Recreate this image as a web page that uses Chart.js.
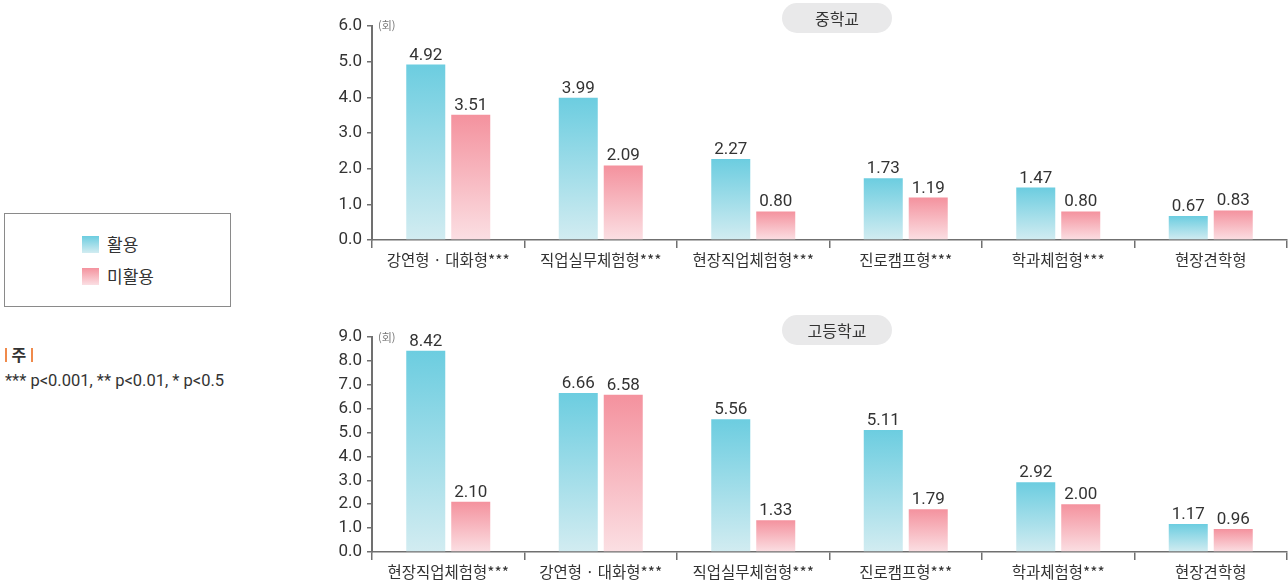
<!DOCTYPE html>
<html lang="ko">
<head>
<meta charset="utf-8">
<title>진로체험 유형별 참여 횟수</title>
<script src="https://cdn.jsdelivr.net/npm/chart.js@4.4.1/dist/chart.umd.min.js"></script>
<style>
  html, body { margin: 0; padding: 0; background: #fff; }
  body { width: 1288px; height: 585px; position: relative; overflow: hidden;
         font-family: "Noto Sans CJK KR", "Noto Sans", sans-serif; color: #333; }
  .chart-box { position: absolute; left: 300px; width: 988px; }
  .chart-box canvas { display: block; }
  .pill { position: absolute; left: 782px; width: 110px; height: 30px; border-radius: 15px;
          background: #e9e9ea; text-align: center; line-height: 30px; font-size: 16px; color: #333; }
  .unit { position: absolute; left: 378px; font-size: 11px; color: #777; }
  .legend { position: absolute; left: 4px; top: 213px; width: 225px; height: 92px;
            border: 1.5px solid #8a8a8a; }
  .legend .item { position: absolute; left: 77px; height: 18px; line-height: 18px; font-size: 17px; }
  .legend .sw { position: absolute; left: 0; top: 0; width: 17px; height: 17px; }
  .legend .txt { position: absolute; left: 25px; top: -1px; white-space: nowrap; }
  .note-head { position: absolute; left: 5px; top: 342px; font-size: 16px; font-weight: 700; color: #333; }
  .note-head .bar { display: inline-block; width: 2px; height: 14px; background: #f08a4b; vertical-align: -1px; }
  .note { position: absolute; left: 5px; top: 371px; font-family: Roboto, "Noto Sans", sans-serif;
          font-size: 16.5px; color: #333; white-space: nowrap; }
</style>
</head>
<body>

<div class="legend">
  <div class="item" style="top:22px"><span class="sw" style="background:linear-gradient(#6ccde0,#d2ecf1)"></span><span class="txt">활용</span></div>
  <div class="item" style="top:54px"><span class="sw" style="background:linear-gradient(#f4929e,#fbdfe3)"></span><span class="txt">미활용</span></div>
</div>
<div class="note-head"><span class="bar"></span> 주 <span class="bar"></span></div>
<div class="note">*** p&lt;0.001, ** p&lt;0.01, * p&lt;0.5</div>

<div class="chart-box" style="top:0;height:273px"><canvas id="middle" width="988" height="273"></canvas></div>
<div class="chart-box" style="top:300px;height:285px"><canvas id="high" width="988" height="285"></canvas></div>

<div class="pill" style="top:3px">중학교</div>
<div class="pill" style="top:315px">고등학교</div>
<div class="unit" style="top:17px">(회)</div>
<div class="unit" style="top:329px">(회)</div>

<script>
// 중학교: 유형별 참여 횟수
const middleCategories = ['강연형 · 대화형***', '직업실무체험형***', '현장직업체험형***', '진로캠프형***', '학과체험형***', '현장견학형'];
const middleUsed       = [4.92, 3.99, 2.27, 1.73, 1.47, 0.67];
const middleNotUsed    = [3.51, 2.09, 0.80, 1.19, 0.80, 0.83];
const middleMax = 6;
const middleStep = 1;

// 고등학교: 유형별 참여 횟수
const highCategories = ['현장직업체험형***', '강연형 · 대화형***', '직업실무체험형***', '진로캠프형***', '학과체험형***', '현장견학형'];
const highUsed       = [8.42, 6.66, 5.56, 5.11, 2.92, 1.17];
const highNotUsed    = [2.10, 6.58, 1.33, 1.79, 2.00, 0.96];
const highMax = 9;
const highStep = 1;

const seriesNames = ['활용', '미활용'];

const AXIS = '#707070';
const TEXT = '#333333';
const NUM_FONT = 'Roboto, "Noto Sans", sans-serif';
const KR_FONT = '"Noto Sans CJK KR", "Noto Sans", sans-serif';

// vertical gradient running from each bar's top down to the baseline
function barGradient(top, bottom) {
  return function (ctx) {
    const chart = ctx.chart;
    const y = chart.scales && chart.scales.y;
    if (!y || ctx.type !== 'data') return top;
    const v = ctx.raw;
    const y0 = y.getPixelForValue(v);
    const y1 = y.getPixelForValue(0);
    if (!isFinite(y0) || !isFinite(y1) || y0 === y1) return top;
    const g = chart.ctx.createLinearGradient(0, y0, 0, y1);
    g.addColorStop(0, top);
    g.addColorStop(1, bottom);
    return g;
  };
}

// value printed above every bar
const valueLabels = {
  id: 'valueLabels',
  afterDatasetsDraw(chart) {
    const ctx = chart.ctx;
    ctx.save();
    ctx.font = '17px ' + NUM_FONT;
    ctx.fillStyle = TEXT;
    ctx.textAlign = 'center';
    ctx.textBaseline = 'alphabetic';
    chart.data.datasets.forEach((ds, di) => {
      const meta = chart.getDatasetMeta(di);
      meta.data.forEach((bar, i) => {
        ctx.fillText(ds.data[i].toFixed(2), bar.x, bar.y - 5);
      });
    });
    ctx.restore();
  }
};

function makeChart(id, categories, used, notUsed, max, step, padTop) {
  return new Chart(document.getElementById(id), {
    type: 'bar',
    data: {
      labels: categories,
      datasets: [
        { label: seriesNames[0], data: used, backgroundColor: barGradient('#6ccde0', '#d2ecf1') },
        { label: seriesNames[1], data: notUsed, backgroundColor: barGradient('#f4929e', '#fbdfe3') }
      ]
    },
    options: {
      responsive: false,
      animation: false,
      events: [],
      categoryPercentage: 0.59,
      barPercentage: 0.867,
      layout: { padding: { top: padTop, right: 1, left: 0, bottom: 0 } },
      plugins: { legend: { display: false }, tooltip: { enabled: false } },
      scales: {
        x: {
          grid: { drawOnChartArea: false, color: AXIS, lineWidth: 1.5, tickLength: 8, offset: true },
          border: { color: AXIS, width: 1.5 },
          ticks: { color: TEXT, font: { family: KR_FONT, size: 15.5 }, padding: 3, maxRotation: 0, autoSkip: false },
          afterFit(scale) { scale.height = 33; }
        },
        y: {
          min: 0, max: max,
          grid: { drawOnChartArea: false, color: AXIS, lineWidth: 1.5, tickLength: 5 },
          border: { color: AXIS, width: 2 },
          ticks: { stepSize: step, color: TEXT, font: { family: NUM_FONT, size: 17 }, padding: 5,
                   callback: v => Number(v).toFixed(1) },
          afterFit(scale) { scale.width = 72; }
        }
      }
    },
    plugins: [valueLabels]
  });
}

makeChart('middle', middleCategories, middleUsed, middleNotUsed, middleMax, middleStep, 26);
makeChart('high', highCategories, highUsed, highNotUsed, highMax, highStep, 37);
</script>
</body>
</html>
